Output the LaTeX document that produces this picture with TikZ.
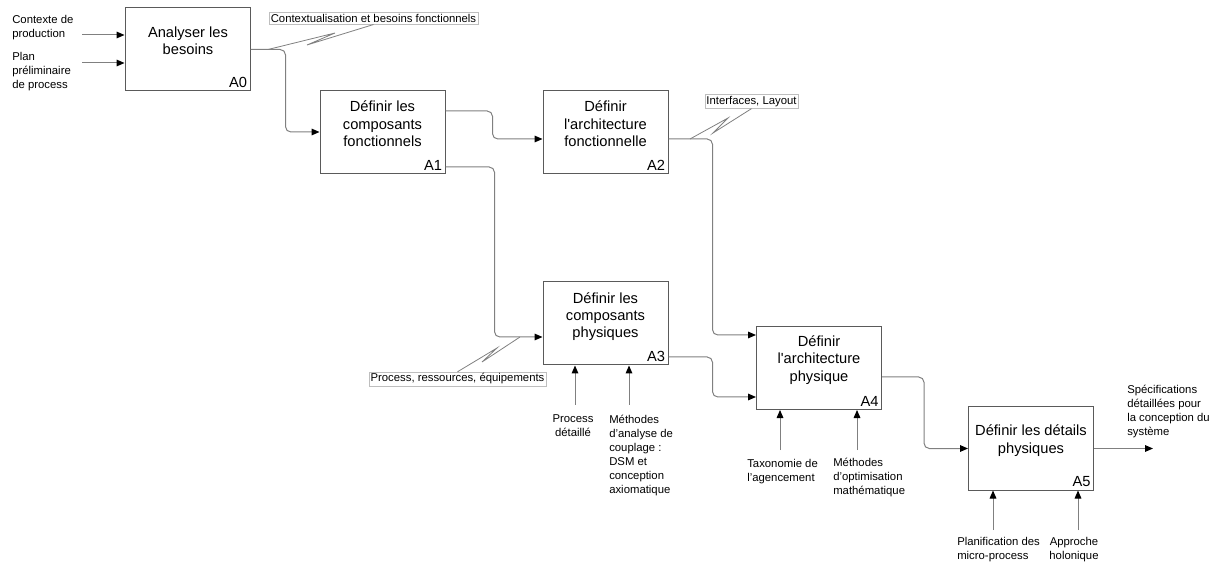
\documentclass[tikz,border=0pt]{standalone}
\usepackage{fontspec}
\setmainfont{Liberation Sans}
\usetikzlibrary{arrows.meta}

\definecolor{linegray}{RGB}{128,128,128}
\definecolor{boxgray}{RGB}{90,90,90}
\definecolor{tagline}{RGB}{190,190,190}

\tikzset{
  actbox/.style={draw=boxgray, line width=0.75, minimum width=93.75pt, minimum height=62.25pt, inner sep=0pt},
  title/.style={align=center, inner sep=0pt, font=\fontsize{11}{13}\selectfont},
  code/.style={anchor=south east, inner sep=2.4pt, font=\fontsize{11}{13}\selectfont},
  note/.style={anchor=north west, align=left, inner sep=0pt, font=\fontsize{8.5}{10.5}\selectfont},
  tag/.style={draw=tagline, fill=white, inner sep=1.2pt, font=\fontsize{8.5}{10.5}\selectfont},
  flow/.style={draw=linegray, line width=0.75, rounded corners=4pt, -{Triangle[black,length=6pt,width=5pt]}},
  squig/.style={draw=linegray, line width=0.6}
}

\begin{document}
\begin{tikzpicture}[x=0.75pt,y=0.75pt,yscale=-1,xscale=1]
\path[use as bounding box] (0,0) rectangle (1217,566);

%Shape: Rectangle
\draw (187.5,49.5) node[actbox] (A0) {};
%Shape: Rectangle
\draw (382.5,132) node[actbox] (A1) {};
%Shape: Rectangle
\draw (605.5,132) node[actbox] (A2) {};
%Shape: Rectangle
\draw (605.5,323.5) node[actbox] (A3) {};
%Shape: Rectangle
\draw (819,368) node[actbox] (A4) {};
%Shape: Rectangle
\draw (1031,448.5) node[actbox] (A5) {};

% Text Node
\draw (188,41) node[title] (t0) {Analyser les\\besoins};
% Text Node
\draw (382.5,124) node[title] (t1) {Définir les\\composants\\fonctionnels};
% Text Node
\draw (605.5,124) node[title] (t2) {Définir\\l\textquotesingle architecture\\fonctionnelle};
% Text Node
\draw (605.5,316.5) node[title] (t3) {Définir les\\composants\\physiques};
% Text Node
\draw (819,360) node[title] (t4) {Définir\\l\textquotesingle architecture\\physique};
% Text Node
\draw (1031,440.5) node[title] (t5) {Définir les détails\\physiques};

% Text Node
\draw (A0.south east) node[code] (c0) {A0};
\draw (A1.south east) node[code] (c1) {A1};
\draw (A2.south east) node[code] (c2) {A2};
\draw (A3.south east) node[code] (c3) {A3};
\draw (A4.south east) node[code] (c4) {A4};
\draw (A5.south east) node[code] (c5) {A5};

%Straight Lines
\coordinate (i1) at (82,35);
\coordinate (i2) at (82,63);
\draw[flow] (i1) -- (i1 -| A0.west);
\draw[flow] (i2) -- (i2 -| A0.west);

%Straight Lines
\draw[flow] (A0.east) -- ++(35,0) |- (A1.west);
\draw[flow] (A1.east |- 0,111) -- ++(47,0) |- (A2.west |- 0,139);
\draw[flow] (A1.east |- 0,167) -- ++(49,0) |- (A3.west |- 0,337);
\draw[flow] (A2.east |- 0,139) -- ++(44,0) |- (A4.west |- 0,335);
\draw[flow] (A3.east |- 0,357) -- ++(44,0) |- (A4.west |- 0,397);
\draw[flow] (A4.east |- 0,377) -- ++(42,0) |- (A5.west);
\coordinate (o5) at (1153,448.5);
\draw[flow] (A5.east) -- (o5);

%Straight Lines
\coordinate (m31) at (575,405);
\coordinate (m32) at (629,405);
\coordinate (m41) at (780,450);
\coordinate (m42) at (857,450);
\coordinate (m51) at (993,530);
\coordinate (m52) at (1078,530);
\draw[flow] (m31) -- (m31 |- A3.south);
\draw[flow] (m32) -- (m32 |- A3.south);
\draw[flow] (m41) -- (m41 |- A4.south);
\draw[flow] (m42) -- (m42 |- A4.south);
\draw[flow] (m51) -- (m51 |- A5.south);
\draw[flow] (m52) -- (m52 |- A5.south);

% Text Node
\draw (373.5,18.5) node[tag] (L0) {Contextualisation et besoins fonctionnels};
% Text Node
\draw (751.5,101.5) node[tag] (L2) {Interfaces, Layout};
% Text Node
\draw (457.5,379) node[tag] (L3) {Process, ressources, équipements};

%Straight Lines
\coordinate (s0) at (268,49.5);
\coordinate (s2) at (690,139);
\coordinate (s3) at (520,337);
\draw[squig] (s0) -- (335,33) -- (307,45) -- (L0.south);
\draw[squig] (s2) -- (728,118) -- (713,133) -- (L2.south);
\draw[squig] (s3) -- (482,362) -- (497,348) -- (L3.north);

% Text Node
\draw (12,15) node[note] (n1) {Contexte de\\production};
% Text Node
\draw (12,52) node[note] (n2) {Plan\\préliminaire\\de process};
% Text Node
\draw (573,414) node[note, anchor=north, align=center] (n31) {Process\\détaillé};
% Text Node
\draw (609,415) node[note] (n32) {Méthodes\\d’analyse de\\couplage :\\DSM et\\conception\\axiomatique};
% Text Node
\draw (747,459) node[note] (n41) {Taxonomie de\\l’agencement};
% Text Node
\draw (833,458) node[note] (n42) {Méthodes\\d’optimisation\\mathématique};
% Text Node
\draw (957,537) node[note] (n51) {Planification des\\micro-process};
% Text Node
\draw (1074,537) node[note, anchor=north, align=center] (n52) {Approche\\holonique};
% Text Node
\draw (1127,385) node[note] (n6) {Spécifications\\détaillées pour\\la conception du\\système};

\end{tikzpicture}
\end{document}
